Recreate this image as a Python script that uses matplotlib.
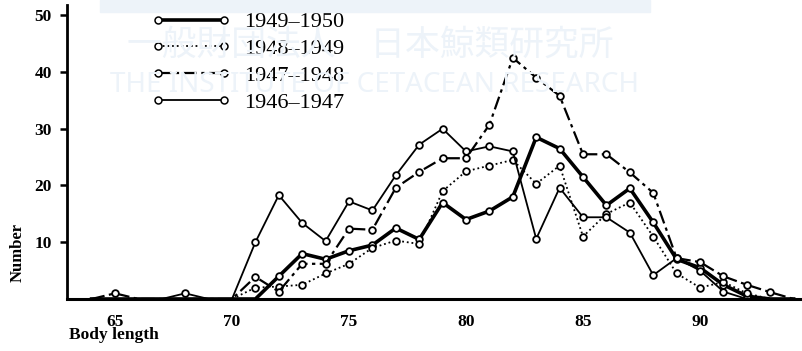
import matplotlib.pyplot as plt
import numpy as np
from matplotlib.lines import Line2D

# body length (feet) and number of whales per season
lengths = np.arange(64, 95)
s1949 = [0, 0, 0, 0, 0, 0, 0, 0, 4, 8, 7, 8.5, 9.5, 12.5, 10.5, 17, 14, 15.5, 18,
         28.5, 26.5, 21.5, 16.5, 19.5, 13.5, 7, 5.5, 2.5, 0.5, 0, 0]
s1948 = [0, 0, 0, 0, 0, 0, 0, 2, 2.2, 2.5, 4.5, 6.2, 9, 10.3, 9.7, 19, 22.5, 23.5,
         24.5, 20.3, 23.5, 11, 15, 17, 11, 4.5, 2, 3, 1, 0, 0]
s1947 = [0, 1, 0, 0, 0, 0, 0, 3.9, 1.3, 6.2, 6.2, 12.4, 12.2, 19.6, 22.4, 24.8, 24.8,
         30.7, 42.5, 39, 35.8, 25.5, 25.5, 22.3, 18.7, 7.2, 6.5, 4, 2.5, 1.2, 0]
s1946 = [0, 0, 0, 0, 1, 0, 0, 10, 18.3, 13.4, 10.2, 17.2, 15.6, 21.8, 27.2, 30, 26,
         26.9, 26, 10.6, 19.6, 14.4, 14.4, 11.7, 4.2, 7.2, 5, 1.3, 0, 0, 0]
seasons = ['1949\u20131950', '1948\u20131949', '1947\u20131948', '1946\u20131947']
yticks = [10, 20, 30, 40, 50]
xticks = [65, 70, 75, 80, 85, 90]

serif = ['Liberation Serif', 'DejaVu Serif']
styles = [
    dict(lw=2.6, ls='-'),
    dict(lw=1.3, ls=(0, (1, 1.6))),
    dict(lw=1.6, ls=(0, (6, 2, 1.5, 2))),
    dict(lw=1.3, ls='-'),
]
series = [s1949, s1948, s1947, s1946]

fig = plt.figure(figsize=(8.03, 3.51), dpi=100)
ax = fig.add_axes([67 / 803, 1 - 299 / 351, 1 - 67 / 803, 294 / 351])

# faint watermark of the scanned source
fig.patches.append(plt.Rectangle((100 / 803, 1 - 12 / 351), 550 / 803, 12 / 351,
                                 transform=fig.transFigure, color='#edf3f9', zorder=0))
fig.text(370 / 803, 1 - 45 / 351, '一般財団法人　日本鯨類研究所', fontsize=25,
         family=['Noto Sans CJK JP'], color='#edf3f9', ha='center', va='center', zorder=0)
fig.text(375 / 803, 1 - 85 / 351, 'THE INSTITUTE OF CETACEAN RESEARCH', fontsize=20,
         family=['Noto Sans'], color='#edf3f9', ha='center', va='center', zorder=0)
ax.patch.set_alpha(0)

handles = []
for vals, st, lab in zip(series, styles, seasons):
    v = np.array(vals, dtype=float)
    ax.plot(lengths, v, color='black', **st)
    m = v > 0
    ax.plot(lengths[m], v[m], 'o', ms=4.8, mfc='white', mec='black', mew=1.3)
    handles.append(Line2D([0, 1], [0, 0], color='black', marker='o', ms=5, mfc='white',
                          mec='black', mew=1.1, label=lab, **st))

ax.legend(handles=handles, loc='upper left', bbox_to_anchor=(0.087, 1.045),
          frameon=False, numpoints=2, handlelength=3.6, handletextpad=0.6,
          labelspacing=0.28, prop={'family': serif, 'size': 16})

ax.set_xlim(62.95, 94.4)
ax.set_ylim(0, 51.8)
ax.spines['top'].set_visible(False)
ax.spines['right'].set_visible(False)
ax.spines['left'].set_linewidth(2)
ax.spines['bottom'].set_linewidth(2.2)
ax.set_yticks(yticks)
ax.set_yticklabels([str(t) for t in yticks], family=serif, fontsize=12.5, fontweight='bold')
ax.set_xticks(xticks)
ax.set_xticklabels([str(t) for t in xticks], family=serif, fontsize=12.5, fontweight='bold')
ax.tick_params(axis='y', direction='out', length=5, width=1.8, pad=6)
ax.tick_params(axis='x', length=0, pad=11)

fig.text(18 / 803, 1 - 253 / 351, 'Number', rotation=90, family=serif, fontsize=12,
         fontweight='bold', ha='center', va='center')
fig.text(69 / 803, 1 - 335 / 351, 'Body length', family=serif, fontsize=12.5,
         fontweight='bold', ha='left', va='center')

fig.savefig('out.png', dpi=100)
